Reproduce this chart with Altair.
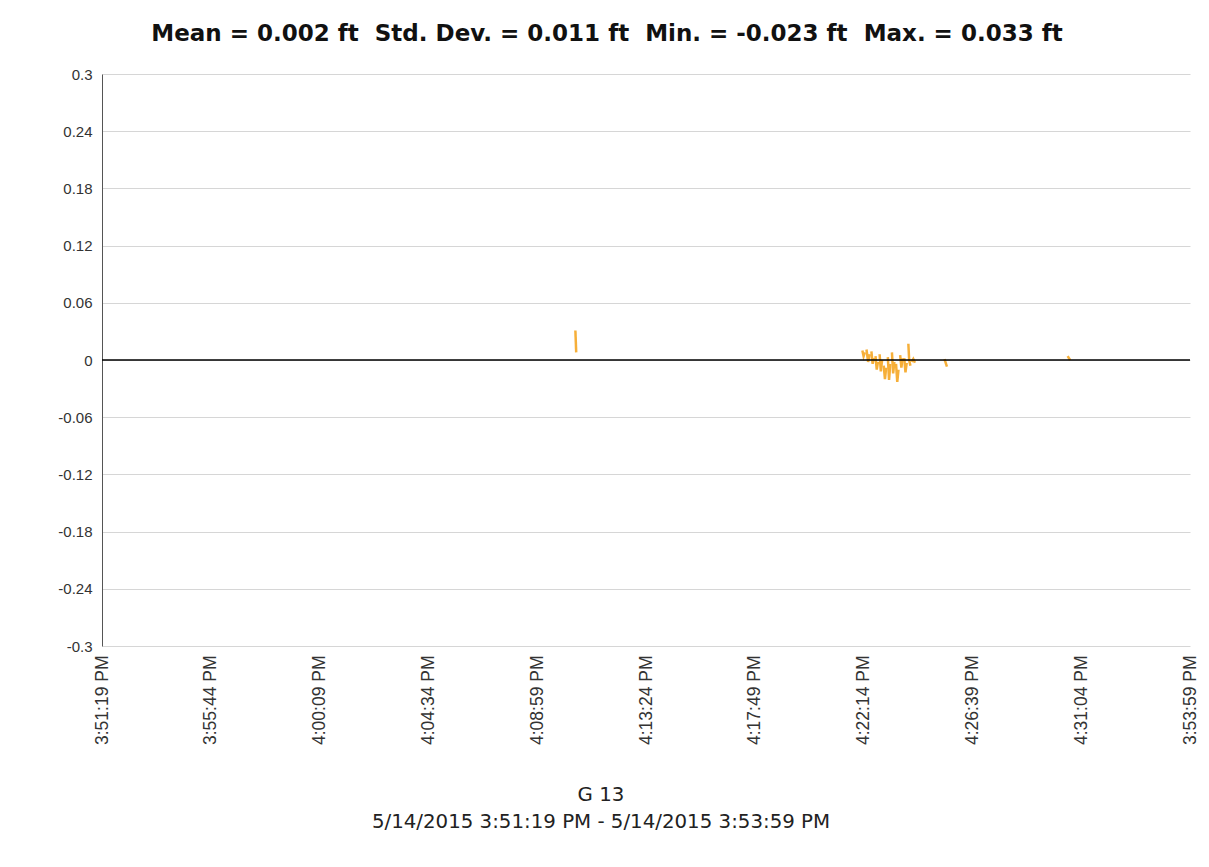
import altair as alt
import pandas as pd

# ---- data ----
seg_id = [1, 1,
          2, 2, 2, 3, 3, 3, 4, 4, 4, 5, 5, 5, 6, 6, 6, 7, 7, 7, 8, 8, 8,
          9, 9, 9, 10, 10, 10, 11, 11, 11, 12, 12, 12, 13, 13, 13, 14, 14, 14,
          15, 15, 16, 16]
t_sec = [1153, 1155,
         1852, 1855, 1858, 1862, 1866, 1870, 1874, 1877, 1880, 1884, 1887, 1890,
         1894, 1897, 1900, 1904, 1907, 1910, 1914, 1917, 1920,
         1924, 1927, 1930, 1934, 1937, 1940, 1944, 1947, 1950, 1954, 1957, 1960,
         1964, 1966, 1969, 1972, 1976, 1980,
         2052, 2058, 2352, 2358]
err_ft = [0.031, 0.008,
          0.010, 0.004, 0.008, 0.011, -0.002, 0.006, 0.009, -0.004, 0.002,
          0.004, -0.010, -0.002, 0.006, -0.012, 0.000, -0.006, -0.020, -0.008,
          0.003, -0.021, -0.004,
          0.008, -0.014, -0.002, -0.004, -0.023, -0.010, 0.005, -0.008, 0.002,
          0.002, -0.013, -0.003, 0.017, 0.000, -0.006, -0.002, 0.001, -0.003,
          0.001, -0.007, 0.004, 0.000]

tick_seconds = [0, 265, 530, 795, 1060, 1325, 1590, 1855, 2120, 2385, 2650]
tick_labels = ["3:51:19 PM", "3:55:44 PM", "4:00:09 PM", "4:04:34 PM", "4:08:59 PM",
               "4:13:24 PM", "4:17:49 PM", "4:22:14 PM", "4:26:39 PM", "4:31:04 PM",
               "3:53:59 PM"]
y_ticks = [0.3, 0.24, 0.18, 0.12, 0.06, 0, -0.06, -0.12, -0.18, -0.24, -0.3]

GAP = " \u00a0"
title_text = ("Mean = 0.002 ft" + GAP + "Std. Dev. = 0.011 ft" + GAP +
              "Min. = -0.023 ft" + GAP + "Max. = 0.033 ft")
caption1 = "G 13"
caption2 = "5/14/2015 3:51:19 PM - 5/14/2015 3:53:59 PM"

df = pd.DataFrame({"seg": seg_id, "t": t_sec, "v": err_ft})

W, H = 1088, 572
FONT = "Liberation Sans"
WIDE = "DejaVu Sans"

label_arr = "[" + ",".join("'" + s + "'" for s in tick_labels) + "]"

x_scale = alt.Scale(domain=[0, 2650], nice=False, zero=False)
y_scale = alt.Scale(domain=[-0.3, 0.3], nice=False)

lines = alt.Chart(df).mark_line(color="#F5A623", strokeWidth=2.5, opacity=0.9).encode(
    x=alt.X("t:Q", scale=x_scale,
            axis=alt.Axis(values=tick_seconds, title=None, grid=False, ticks=False,
                          domain=False, labelAngle=270, labelPadding=9,
                          labelFont=FONT, labelFontSize=17.5, labelColor="#333333",
                          labelOverlap=False, labelFlush=False,
                          labelExpr=label_arr + "[round(datum.value/265)]")),
    y=alt.Y("v:Q", scale=y_scale,
            axis=alt.Axis(values=y_ticks, title=None, grid=True, gridColor="#d6d6d6",
                          ticks=False, domain=True, domainColor="#555555",
                          labelPadding=10, labelFont=FONT, labelFontSize=15,
                          labelColor="#333333", labelOverlap=False, labelFlush=False,
                          labelExpr="toString(round(datum.value*100)/100)")),
    detail="seg:N",
)

zero = alt.Chart(pd.DataFrame({"z": [0]})).mark_rule(color="#000000", strokeWidth=1.5).encode(
    y=alt.Y("z:Q", scale=y_scale)
)

base_txt = pd.DataFrame({"a": [0]})
title = alt.Chart(base_txt).mark_text(font=WIDE, fontSize=23, fontWeight="bold",
                                      color="#111111", align="center", baseline="middle").encode(
    x=alt.value(505), y=alt.value(-40), text=alt.value(title_text))
cap1 = alt.Chart(base_txt).mark_text(font=WIDE, fontSize=19.8, color="#222222",
                                     align="center", baseline="middle").encode(
    x=alt.value(499), y=alt.value(721), text=alt.value(caption1))
cap2 = alt.Chart(base_txt).mark_text(font=WIDE, fontSize=19.8, color="#222222",
                                     align="center", baseline="middle").encode(
    x=alt.value(499), y=alt.value(748), text=alt.value(caption2))

chart = alt.layer(lines, zero, title, cap1, cap2).properties(
    width=W, height=H,
    autosize=alt.AutoSizeParams(type="none"),
    padding={"left": 94, "top": 66, "right": 11, "bottom": 213},
    background="white",
).configure_view(stroke=None)

chart.save("out.html", embed_options={"renderer": "svg", "actions": False})
